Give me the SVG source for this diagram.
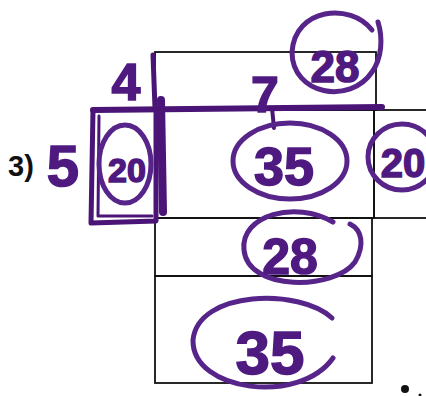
<svg xmlns="http://www.w3.org/2000/svg" width="426" height="396" viewBox="0 0 426 396">
<style>
.face{fill:none;stroke:#111;stroke-width:1.8}
.pen{fill:none;stroke:#4a1577;stroke-linecap:round;stroke-linejoin:round}
.ring{fill:none;stroke:#57248a;stroke-width:5;stroke-linecap:round}
.num{font-family:"Liberation Sans",Arial,sans-serif;font-weight:bold;fill:#4f1a80;stroke:#4f1a80;stroke-width:1.5;text-anchor:middle}
</style>
<rect width="426" height="396" fill="#fff"/>
<g id="faces">
<rect id="top" class="face" x="155" y="52" width="221" height="58"/>
<rect id="front" class="face" x="155" y="110" width="219" height="108"/>
<rect id="right" class="face" x="374" y="110" width="60" height="108"/>
<rect id="bottom" class="face" x="155" y="218" width="217" height="58"/>
<rect id="back" class="face" x="155" y="276" width="217" height="107"/>
</g>
<g id="connectors">
<path class="pen" stroke-width="6" d="M93 110 L382 107"/>
<path class="pen" stroke-width="5" d="M93 110 L91 223 L156 221 L156 110"/>
<path class="pen" stroke-width="3" d="M99 116 L98 216 L152 216"/>
<path class="pen" stroke-width="8" stroke="#6a33a0" d="M161 100 L163 212"/>
<path class="pen" stroke-width="5" d="M153 55 L155 108"/>
<path class="pen" stroke-width="4" d="M272 108 L274 128"/>
</g>
<g id="label-3"><text x="21" y="176" font-family="Liberation Sans,Arial,sans-serif" font-weight="bold" font-size="29" text-anchor="middle" fill="#111">3)</text></g>
<g id="label-5"><text class="num" x="63" y="186" font-size="58">5</text></g>
<g id="label-4"><text class="num" x="126" y="100" font-size="52">4</text></g>
<g id="label-7"><text class="num" x="265" y="112" font-size="50">7</text></g>
<g id="n-top-28">
<path class="ring" d="M372 30 C350 2 295 8 292 52 C292 95 350 105 372 72 C382 58 383 38 378 22"/>
<text class="num" x="335" y="82" font-size="44">28</text>
</g>
<g id="n-front-35">
<ellipse class="ring" cx="290" cy="161" rx="57" ry="38"/>
<text class="num" x="284" y="185" font-size="54">35</text>
</g>
<g id="n-left-20">
<ellipse class="ring" cx="125" cy="164" rx="26" ry="39"/>
<text class="num" x="127" y="182" font-size="34">20</text>
</g>
<g id="n-right-20">
<ellipse class="ring" cx="402" cy="157" rx="34" ry="33"/>
<text class="num" x="403" y="177" font-size="40">20</text>
</g>
<g id="n-bottom-28">
<path class="ring" d="M333 222 C296 200 240 215 244 250 C248 292 335 290 355 262 C365 245 362 230 350 224"/>
<text class="num" x="290" y="274" font-size="50">28</text>
</g>
<g id="n-back-35">
<path class="ring" d="M332 318 C300 288 198 290 193 340 C192 392 300 405 333 358"/>
<text class="num" x="270" y="374" font-size="62">35</text>
</g>
<circle cx="405" cy="389" r="4" fill="#111"/>
<circle cx="420" cy="395" r="1.5" fill="#111"/>
</svg>
